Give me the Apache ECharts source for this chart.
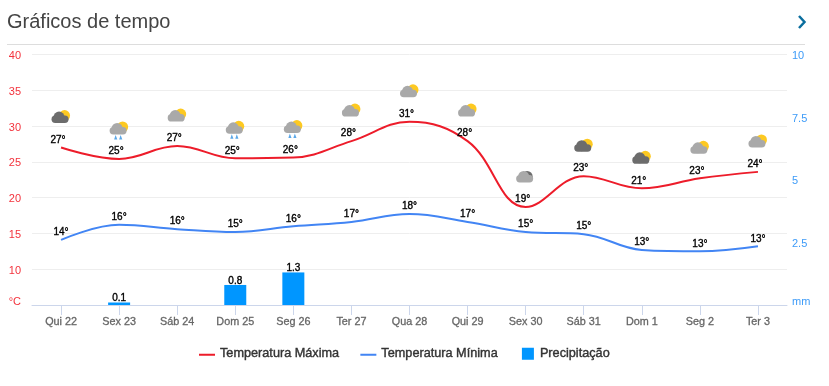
<!DOCTYPE html>
<html><head><meta charset="utf-8">
<style>html,body{margin:0;padding:0;background:#fff}#c{width:829px;height:386px}</style>
<script src="https://cdn.jsdelivr.net/npm/echarts@6/dist/echarts.min.js"></script>
</head><body><div id="c"></div>
<script>
const categories=['Qui 22','Sex 23','Sáb 24','Dom 25','Seg 26','Ter 27','Qua 28','Qui 29','Sex 30','Sáb 31','Dom 1','Seg 2','Ter 3'];
const tempMax=[27.0,25.4,27.2,25.5,25.6,27.9,30.6,27.9,18.7,23.0,21.3,22.7,23.6];
const tempMin=[14.1,16.2,15.6,15.2,16.0,16.6,17.7,16.6,15.2,14.9,12.7,12.5,13.2];
const maxLabels=['27°','25°','27°','25°','26°','28°','31°','28°','19°','23°','21°','23°','24°'];
const minLabels=['14°','16°','16°','15°','16°','17°','18°','17°','15°','15°','13°','13°','13°'];
const precip=[null,0.1,null,0.8,1.3,null,null,null,null,null,null,null,null];
const icons=['dark','rain','light','rain','rain','light','light','light','cloud','dark','dark','light','light'];

const FONT='"Liberation Sans", Arial, sans-serif';
function iconChildren(kind){
  const kids=[];
  if(kind!=='cloud')kids.push({type:'circle',shape:{cx:3.5,cy:-32,r:5.5},style:{fill:'#fdc921'}});
  const body=kind==='dark'?'#6c6c6c':'#a9a9a9';
  if(kind==='cloud')kids.push({type:'circle',shape:{cx:1.5,cy:-30.5,r:5.5},style:{fill:'#6c6c6c'}});
  kids.push({type:'circle',shape:{cx:-2,cy:-30.5,r:5.5},style:{fill:body}});
  kids.push({type:'rect',shape:{x:-9.5,y:-32,width:17,height:7.5,r:3.7},style:{fill:body}});
  if(kind==='rain'){
    kids.push({type:'polygon',shape:{points:[[-3.5,-24],[-1.8,-19.5],[-5,-19.5]]},style:{fill:'#5aa7e8'}});
    kids.push({type:'polygon',shape:{points:[[1.5,-24],[3.2,-19.5],[0,-19.5]]},style:{fill:'#5aa7e8'}});
  }
  return kids;
}
function tempText(txt,x,y){
  return {type:'text',x:x,y:y,style:{text:txt,align:'center',verticalAlign:'middle',font:'10px '+FONT,fill:'#000',stroke:'#000',lineWidth:0.35}};
}
const chart=echarts.init(document.getElementById('c'),null,{renderer:'canvas'});
chart.setOption({
  animation:false,
  backgroundColor:'#fff',
  textStyle:{fontFamily:FONT},
  title:{text:'Gráficos de tempo',left:7,top:12,padding:0,textStyle:{fontFamily:FONT,fontSize:20,fontWeight:400,color:'#444'}},
  graphic:[
    {type:'line',shape:{x1:7,y1:44.5,x2:805,y2:44.5},style:{stroke:'#ddd',lineWidth:1}},
    {type:'polyline',shape:{points:[[799,16],[804.5,22],[799,28]]},style:{stroke:'#0a6e9e',lineWidth:2.5,fill:null}}
  ],
  grid:{left:32,right:42,top:54.5,bottom:81,containLabel:false},
  legend:{
    top:347,left:199,padding:0,itemGap:21,itemWidth:16,itemHeight:12,
    textStyle:{fontFamily:FONT,fontSize:12.7,color:'#333',textBorderColor:'#333',textBorderWidth:0.4,padding:[2,0,0,0]},
    data:[
      {name:'Temperatura Máxima',icon:'path://M0 0L0 0ZM16 12L16 12ZM0 6H16V8H0Z'},
      {name:'Temperatura Mínima',icon:'path://M0 0L0 0ZM16 12L16 12ZM0 6H16V8H0Z'},
      {name:'Precipitação',icon:'path://M0 0L0 0ZM16 12L16 12ZM3 0H15V12H3Z'}
    ]
  },
  xAxis:{type:'category',data:categories,boundaryGap:true,
    axisLine:{lineStyle:{color:'#ccd6eb',width:1}},
    axisTick:{show:true,length:10,alignWithLabel:true,lineStyle:{color:'#ccd6eb'}},
    axisLabel:{interval:0,margin:11,fontFamily:FONT,fontSize:10.8,color:'#666',textBorderColor:'#666',textBorderWidth:0.3,lineHeight:12},
    splitLine:{show:false}},
  yAxis:[
    {type:'value',min:5,max:40,interval:5,
      axisLine:{show:false},axisTick:{show:false},
      axisLabel:{margin:11,padding:[3,0,0,0],fontFamily:FONT,fontSize:11,color:'#f3323c',
        formatter:v=>v===5?'{u|°C}':String(v),
        rich:{u:{fontFamily:FONT,fontSize:11,color:'#f3323c',padding:[0,0,9,0]}}},
      splitLine:{lineStyle:{color:'#eee',width:1}}},
    {type:'value',min:0,max:10,interval:2.5,
      axisLine:{show:false},axisTick:{show:false},
      axisLabel:{margin:5,padding:[3,0,0,0],fontFamily:FONT,fontSize:11,color:'#3d9bf8',
        formatter:v=>v===0?'{u|mm}':String(v),
        rich:{u:{fontFamily:FONT,fontSize:11,color:'#3d9bf8',padding:[0,0,9,0]}}},
      splitLine:{show:false}}
  ],
  series:[
    {name:'Precipitação',type:'bar',yAxisIndex:1,data:precip,barWidth:22,z:2,
      itemStyle:{color:'#0096ff'},
      label:{show:true,position:'top',distance:-1,fontFamily:FONT,fontSize:10,color:'#000',textBorderColor:'#000',textBorderWidth:0.35,
        formatter:p=>p.value==null?'':p.value.toFixed(1)}},
    {name:'Temperatura Máxima',type:'line',data:tempMax,smooth:0.4,showSymbol:false,symbol:'none',z:3,
      lineStyle:{color:'#ed1c2a',width:2},itemStyle:{color:'#ed1c2a'}},
    {name:'Temperatura Mínima',type:'line',data:tempMin,smooth:0.4,showSymbol:false,symbol:'none',z:3,
      lineStyle:{color:'#4285f4',width:2},itemStyle:{color:'#4285f4'}},
    {name:'maxLabels',type:'custom',data:tempMax,z:5,silent:true,
      renderItem:(p,api)=>{const c=api.coord([api.value(0),api.value(1)]);
        return tempText(maxLabels[p.dataIndex],c[0]-3,c[1]-7.5);},
      encode:{x:0,y:1}},
    {name:'minLabels',type:'custom',data:tempMin,z:5,silent:true,
      renderItem:(p,api)=>{const c=api.coord([api.value(0),api.value(1)]);
        return tempText(minLabels[p.dataIndex],c[0],c[1]-7.5);},
      encode:{x:0,y:1}},
    {name:'icons',type:'custom',data:tempMax,z:4,silent:true,
      renderItem:(p,api)=>{const c=api.coord([api.value(0),api.value(1)]);
        return {type:'group',x:c[0],y:c[1],children:iconChildren(icons[p.dataIndex])};},
      encode:{x:0,y:1}}
  ]
});
</script></body></html>
